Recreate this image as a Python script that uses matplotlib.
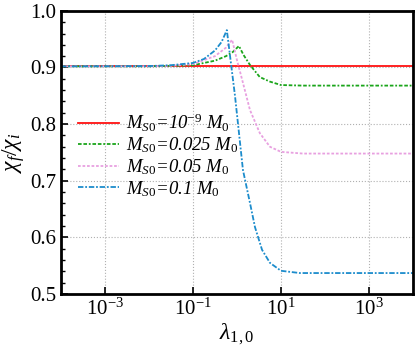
import numpy as np
import matplotlib
matplotlib.use("Agg")
import matplotlib.pyplot as plt

plt.rcParams['font.family'] = ['Liberation Serif', 'DejaVu Serif']
plt.rcParams['mathtext.fontset'] = 'custom'
plt.rcParams['mathtext.rm'] = 'Liberation Serif'
plt.rcParams['mathtext.it'] = 'Liberation Serif:italic'

# log10(lambda) and chi_f/chi_i
x_red = [-4, 4]
y_red = [0.902, 0.902]

x_green = [-4, -2, -1.5, -1, -0.5, -0.25, -0.1, 0.045, 0.15, 0.3, 0.52, 0.75, 1.0, 1.5, 4]
y_green = [0.902, 0.902, 0.903, 0.904, 0.912, 0.92, 0.927, 0.938, 0.922, 0.904, 0.883, 0.875, 0.869, 0.868, 0.868]

x_pink = [-4, -2, -1.5, -1, -0.5, -0.25, -0.11, 0.0, 0.136, 0.295, 0.52, 0.75, 1.0, 1.5, 4]
y_pink = [0.902, 0.902, 0.903, 0.906, 0.92, 0.935, 0.949, 0.913, 0.873, 0.825, 0.784, 0.76, 0.751, 0.748, 0.748]

x_blue = [-4, -2, -1.5, -1, -0.75, -0.5, -0.35, -0.23, -0.045, 0.136, 0.295, 0.41, 0.57, 0.75, 1.0, 1.43, 4]
y_blue = [0.902, 0.9025, 0.904, 0.908, 0.915, 0.93, 0.945, 0.966, 0.85, 0.719, 0.661, 0.618, 0.578, 0.555, 0.541, 0.537, 0.537]

labels = [r'$M_{\mathit{S0}}$=10$^{-9}$ $M_{\mathit{0}}$', r'$M_{\mathit{S0}}$=0.025 $M_{\mathit{0}}$',
          r'$M_{\mathit{S0}}$=0.05 $M_{\mathit{0}}$', r'$M_{\mathit{S0}}$=0.1 $M_{\mathit{0}}$']

fig = plt.figure(figsize=(4.15, 3.5), dpi=100)
ax = fig.add_axes([0.147, 0.16, 0.848, 0.809])

ax.plot(10.0 ** np.array(x_red), y_red, color='#ff1010', lw=1.3, ls='-', label=labels[0])
ax.plot(10.0 ** np.array(x_green), y_green, color='#1aa51a', lw=1.3, ls=(0, (2, 1, 2, 1, 1, 1)), label=labels[1])
ax.plot(10.0 ** np.array(x_pink), y_pink, color='#e8a0e0', lw=1.3, ls=(0, (1.5, 1)), label=labels[2])
ax.plot(10.0 ** np.array(x_blue), y_blue, color='#1c8ccc', lw=1.3, ls=(0, (3, 1, 1, 1)), label=labels[3])

ax.set_xscale('log')
ax.set_xlim(1e-4, 1e4)
ax.set_ylim(0.5, 1.0)
ax.set_xticks([1e-3, 1e-1, 1e1, 1e3])
ax.xaxis.set_minor_locator(matplotlib.ticker.NullLocator())
ax.set_yticks([0.5, 0.6, 0.7, 0.8, 0.9, 1.0])
ax.set_yticklabels(['0.5', '0.6', '0.7', '0.8', '0.9', '1.0'])
ax.yaxis.set_minor_locator(matplotlib.ticker.MultipleLocator(0.02))
ax.tick_params(which='both', direction='in', labelsize=15)
ax.tick_params(which='major', length=5, width=1.2)
ax.tick_params(which='minor', length=3, width=1)
ax.grid(True, which='major', ls=':', color='#b0b0b0', lw=0.8)
for s in ax.spines.values():
    s.set_linewidth(2)

ax.set_xlabel(r'$\lambda_{\mathit{1,0}}$', fontsize=17, labelpad=1)
ax.set_ylabel(r'$\chi_{f}/\chi_{i}$', fontsize=17, labelpad=2)

ax.legend(loc='upper left', bbox_to_anchor=(0.01, 0.69), frameon=False,
          prop={'style': 'italic', 'size': 13.5}, handlelength=2.2,
          labelspacing=0.1, handletextpad=0.4, borderaxespad=0.3)

fig.savefig('out.png', dpi=100)
